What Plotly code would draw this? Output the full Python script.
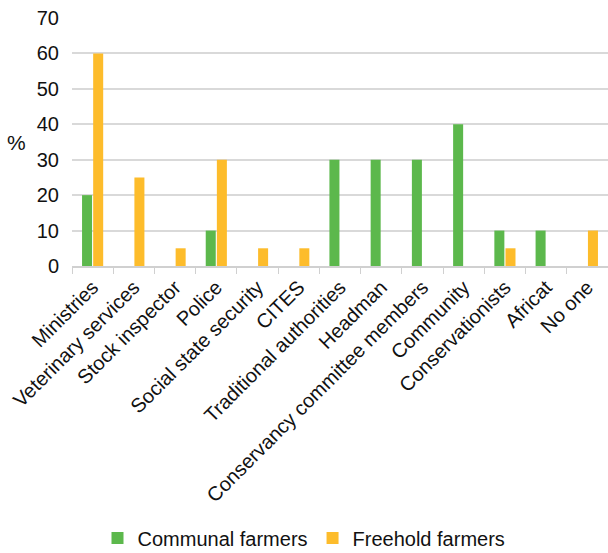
import plotly.graph_objects as go

categories = ["Ministries", "Veterinary services", "Stock inspector", "Police",
              "Social state security", "CITES", "Traditional authorities", "Headman",
              "Conservancy committee members", "Community", "Conservationists",
              "Africat", "No one"]
communal = [20, 0, 0, 10, 0, 0, 30, 30, 30, 40, 10, 10, 0]
freehold = [60, 25, 5, 30, 5, 5, 0, 0, 0, 0, 5, 0, 10]
y_ticks = [0, 10, 20, 30, 40, 50, 60, 70]

fig = go.Figure()
fig.add_trace(go.Bar(x=categories, y=communal, name="Communal farmers",
                     marker=dict(color="#5CB84C", line=dict(width=0))))
fig.add_trace(go.Bar(x=categories, y=freehold, name="Freehold farmers",
                     marker=dict(color="#FDBC2B", line=dict(width=0))))

font = "Liberation Sans, Arial, sans-serif"
fig.update_layout(
    width=608, height=553,
    margin=dict(l=72, r=0, t=18, b=287),
    paper_bgcolor="white", plot_bgcolor="white",
    barmode="group", bargap=0.46, bargroupgap=0.1,
    font=dict(family=font, size=20, color="#111111"),
    showlegend=True,
    legend=dict(orientation="h", x=0.5, xanchor="center", xref="container",
                y=0.027, yanchor="middle", yref="container",
                font=dict(size=20), itemwidth=30, traceorder="normal"),
    xaxis=dict(tickangle=-45, ticks="outside", tickson="boundaries",
               ticklen=6, tickcolor="#d0d0d0", showline=True, linecolor="#d0d0d0",
               linewidth=1.5, showgrid=False, automargin=False,
               tickfont=dict(size=20)),
    yaxis=dict(range=[0, 70], tickvals=y_ticks, showgrid=True,
               gridcolor="#d9d9d9", gridwidth=1.5, zeroline=False, showline=False,
               ticks="", automargin=False, tickfont=dict(size=20),
               ticklabelstandoff=12),
    annotations=[dict(text="%", xref="paper", yref="paper", x=-0.103, y=0.50,
                      xanchor="center", yanchor="middle", showarrow=False,
                      font=dict(size=21))],
)
fig.write_html("out.html")
